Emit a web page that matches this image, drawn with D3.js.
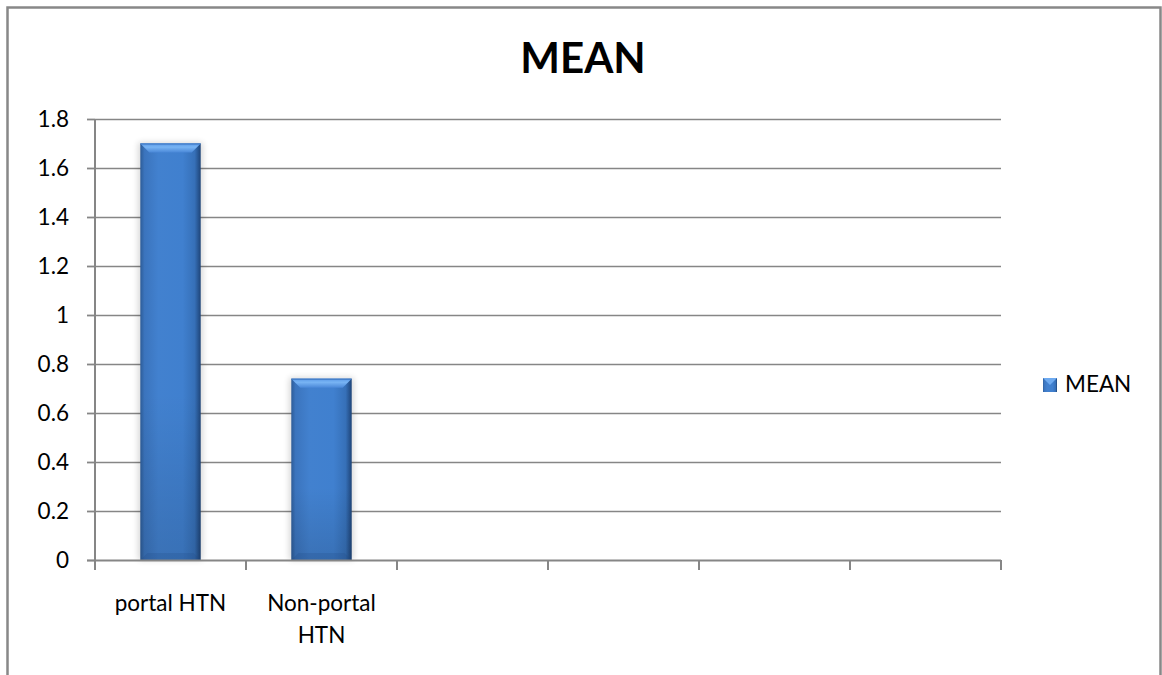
<!DOCTYPE html>
<html>
<head>
<meta charset="utf-8">
<script src="https://cdn.jsdelivr.net/npm/d3@7"></script>
<style>
  html, body { margin: 0; padding: 0; background: #fff; }
  svg { display: block; }
  text { font-family: Lato, "Open Sans", sans-serif; fill: #000; }
</style>
</head>
<body>
<svg id="chart" width="1162" height="675"></svg>
<script>
// Chart data
const chartTitle = "MEAN";
const seriesName = "MEAN";
const categories = ["portal HTN", "Non-portal HTN", "", "", "", ""];
const meanValues = [1.7, 0.74, null, null, null, null];
const yTickValues = [0, 0.2, 0.4, 0.6, 0.8, 1, 1.2, 1.4, 1.6, 1.8];

const svg = d3.select("#chart");
const W = 1162, H = 675;
const plot = { left: 95, right: 1001, top: 119, bottom: 560 };
const labelSize = 22.5;

// Outer chart frame (open at the bottom edge)
svg.append("path")
  .attr("d", `M7.5,${H} L7.5,7.5 L1160.5,7.5 L1160.5,${H}`)
  .attr("fill", "none").attr("stroke", "#888").attr("stroke-width", 2.5);

// Scales
const x = d3.scaleBand()
  .domain(d3.range(categories.length))
  .range([plot.left, plot.right])
  .paddingInner(0.6)
  .paddingOuter(0.3);
const y = d3.scaleLinear().domain([0, 1.8]).range([plot.bottom, plot.top]);

// Defs: bar gradients
const defs = svg.append("defs");
const hg = defs.append("linearGradient").attr("id", "barH").attr("x1", 0).attr("x2", 1).attr("y1", 0).attr("y2", 0);
[["0%", "#2d5c98"], ["7%", "#3b74bd"], ["30%", "#4281cf"], ["70%", "#4080cf"], ["90%", "#3670b8"], ["100%", "#1e4478"]]
  .forEach(([o, c]) => hg.append("stop").attr("offset", o).attr("stop-color", c));
const vg = defs.append("linearGradient").attr("id", "barV").attr("x1", 0).attr("x2", 0).attr("y1", 0).attr("y2", 1);
[["0%", "#ffffff", 0], ["60%", "#000000", 0.0], ["100%", "#000000", 0.12]]
  .forEach(([o, c, a]) => vg.append("stop").attr("offset", o).attr("stop-color", c).attr("stop-opacity", a));
const bevel = defs.append("linearGradient").attr("id", "bevel").attr("x1", 0).attr("x2", 0).attr("y1", 0).attr("y2", 1);
[["0%", "#5a98e6"], ["40%", "#78b4f4"], ["100%", "#4a88d8"]]
  .forEach(([o, c]) => bevel.append("stop").attr("offset", o).attr("stop-color", c));
const shadow = defs.append("filter").attr("id", "shadow").attr("x", "-30%").attr("y", "-10%").attr("width", "160%").attr("height", "120%");
shadow.append("feGaussianBlur").attr("stdDeviation", 3);

// Gridlines
svg.append("g").selectAll("line")
  .data(yTickValues.filter(v => v > 0))
  .join("line")
  .attr("x1", plot.left - 8).attr("x2", plot.right)
  .attr("y1", d => Math.round(y(d)) + 0.5).attr("y2", d => Math.round(y(d)) + 0.5)
  .attr("stroke", "#868686").attr("stroke-width", 1.4);

// Y axis
const yAxis = svg.append("g")
  .attr("transform", `translate(${plot.left},0)`)
  .call(d3.axisLeft(y).tickValues(yTickValues).tickSize(8).tickPadding(18)
    .tickFormat(d => String(+d.toFixed(1))));
yAxis.select(".domain").attr("stroke", "#868686").attr("stroke-width", 2).attr("d", `M0,${plot.top}V${plot.bottom}`);
yAxis.selectAll(".tick line").attr("stroke", "#868686").attr("stroke-width", 1.4);
yAxis.selectAll(".tick text").attr("font-size", labelSize).attr("font-family", "Lato, sans-serif").attr("fill", "#000").attr("dy", "0.34em");

// Bars
const step = x.step();
const bars = svg.append("g").selectAll("g.bar")
  .data(meanValues.map((v, i) => ({ i, v })).filter(d => d.v != null))
  .join("g").attr("class", "bar");

bars.append("rect")
  .attr("x", d => x(d.i) - 2).attr("y", d => y(d.v) - 1)
  .attr("width", x.bandwidth() + 4).attr("height", d => y(0) - y(d.v) + 1)
  .attr("fill", "#000").attr("opacity", 0.16).attr("filter", "url(#shadow)");
bars.append("rect")
  .attr("x", d => x(d.i)).attr("y", d => y(d.v))
  .attr("width", x.bandwidth()).attr("height", d => y(0) - y(d.v))
  .attr("fill", "url(#barH)");
bars.append("rect")
  .attr("x", d => x(d.i)).attr("y", d => y(d.v))
  .attr("width", x.bandwidth()).attr("height", d => y(0) - y(d.v))
  .attr("fill", "url(#barV)");
// Bevelled top face
bars.append("path")
  .attr("d", d => {
    const x0 = x(d.i), x1 = x0 + x.bandwidth(), t = y(d.v), b = 9;
    return `M${x0},${t} L${x1},${t} L${x1 - b},${t + b} L${x0 + b},${t + b} Z`;
  })
  .attr("fill", "url(#bevel)");
bars.append("line")
  .attr("x1", d => x(d.i)).attr("x2", d => x(d.i) + x.bandwidth())
  .attr("y1", d => y(d.v) + 0.5).attr("y2", d => y(d.v) + 0.5)
  .attr("stroke", "#3a74c0").attr("stroke-width", 1);
// Bottom bevel shading
bars.append("path")
  .attr("d", d => {
    const x0 = x(d.i), x1 = x0 + x.bandwidth(), b0 = y(0), b = 7;
    return `M${x0},${b0} L${x1},${b0} L${x1 - b},${b0 - b} L${x0 + b},${b0 - b} Z`;
  })
  .attr("fill", "#1f4a82").attr("opacity", 0.22);

// X axis line and category boundary ticks
svg.append("line")
  .attr("x1", plot.left - 8).attr("x2", plot.right)
  .attr("y1", plot.bottom + 0.5).attr("y2", plot.bottom + 0.5)
  .attr("stroke", "#868686").attr("stroke-width", 2);
const boundaries = d3.range(categories.length + 1).map(i => plot.left + i * step);
svg.append("g").selectAll("line")
  .data(boundaries)
  .join("line")
  .attr("x1", d => d).attr("x2", d => d)
  .attr("y1", plot.bottom).attr("y2", plot.bottom + 10)
  .attr("stroke", "#868686").attr("stroke-width", 2);

// Category labels (wrapped to the slot width)
const catG = svg.append("g").selectAll("text")
  .data(categories.map((c, i) => ({ c, i })).filter(d => d.c))
  .join("text")
  .attr("x", d => x(d.i) + x.bandwidth() / 2)
  .attr("y", 611)
  .attr("text-anchor", "middle")
  .attr("font-size", labelSize);
catG.each(function(d) {
  const t = d3.select(this);
  const lines = d.c === "Non-portal HTN" ? ["Non-portal", "HTN"] : [d.c];
  lines.forEach((ln, k) => {
    t.append("tspan").attr("x", x(d.i) + x.bandwidth() / 2).attr("dy", k === 0 ? 0 : 32).text(ln);
  });
});

// Title
svg.append("text")
  .attr("x", 583).attr("y", 73)
  .attr("text-anchor", "middle")
  .attr("font-size", 42).attr("font-weight", 700)
  .text(chartTitle);

// Legend
const lg = svg.append("g").attr("transform", "translate(1043,378)");
lg.append("rect").attr("width", 14).attr("height", 14).attr("fill", "url(#barH)");
lg.append("path").attr("d", "M0,0 L14,0 L7,7 Z").attr("fill", "#6eaaf0");
lg.append("text").attr("x", 22).attr("y", 14).attr("font-size", labelSize).text(seriesName);
</script>
</body>
</html>
